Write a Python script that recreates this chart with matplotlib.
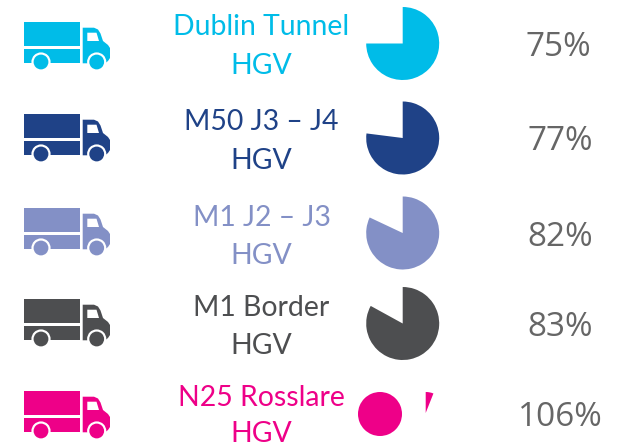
import matplotlib
matplotlib.use("Agg")
import matplotlib.pyplot as plt
from matplotlib.patches import Circle, Polygon, Rectangle

W, H = 623, 446

routes = ["Dublin Tunnel", "M50 J3 – J4", "M1 J2 – J3", "M1 Border", "N25 Rosslare"]
percents = [75, 77, 82, 83, 106]
colors = ["#00BCE8", "#1F4287", "#8390C6", "#4D4E50", "#EE0088"]

truck_dy = [0, 92, 186, 277, 369]
name_y = [27, 122, 218, 308, 398]
hgv_y = [66, 161, 256, 346, 434]
pie_y = [43.5, 138, 233, 323.5]
pct_x = [558, 560, 560, 560, 560]
pct_y = [47, 141, 237, 327, 418]


def draw_truck(ax, dy, color):
    ax.add_patch(Rectangle((24.3, 21.7 + dy), 55.7, 24.3, fc=color, ec="none"))
    ax.add_patch(Rectangle((24.3, 48.7 + dy), 55.7, 14.6, fc=color, ec="none"))
    cab = [(82.7, 27.7), (94, 27.7), (98, 29.5), (100.5, 33.5), (103, 41), (108, 45),
           (110, 48), (110, 58), (108, 61), (105, 63.3), (82.7, 63.3)]
    ax.add_patch(Polygon([(x, y + dy) for x, y in cab], fc=color, ec="none"))
    win = [(87.3, 32.7), (96.5, 32.7), (99, 41), (87.3, 41)]
    ax.add_patch(Polygon([(x, y + dy) for x, y in win], fc="white", ec="none", zorder=3))
    for wx in (41, 96.7):
        ax.add_patch(Circle((wx, 62 + dy), 9.6, fc="white", ec="none", zorder=3))
        ax.add_patch(Circle((wx, 62 + dy), 7.4, fc=color, ec="none", zorder=4))


def pie_axes(fig, cx, cy, r):
    a = fig.add_axes([(cx - r) / W, 1 - (cy + r) / H, 2 * r / W, 2 * r / H])
    a.axis("off")
    return a


def draw_pie(a, vals, cols):
    a.pie(vals, colors=cols, startangle=90, counterclock=False, radius=1)
    a.set_xlim(-1, 1)
    a.set_ylim(-1, 1)


fig = plt.figure(figsize=(W / 100, H / 100), dpi=100, facecolor="white")
ax = fig.add_axes([0, 0, 1, 1])
ax.set_xlim(0, W)
ax.set_ylim(H, 0)
ax.axis("off")

for i, route in enumerate(routes):
    c = colors[i]
    draw_truck(ax, truck_dy[i], c)
    ax.text(261.5, name_y[i], route, color=c, fontsize=20.4, family="Lato", ha="center", va="center")
    ax.text(261.5, hgv_y[i], "HGV", color=c, fontsize=20.4, family="Lato", ha="center", va="center")
    ax.text(pct_x[i], pct_y[i], f"{percents[i]}%", color="#666666", fontsize=24,
            family="Open Sans", ha="center", va="center")

    if percents[i] <= 100:
        draw_pie(pie_axes(fig, 402.7, pie_y[i], 36.5), [percents[i], 100 - percents[i]], [c, "none"])
    else:
        # over 100%: full circle plus the overflow wedge split off to the right
        draw_pie(pie_axes(fig, 380, 414, 22), [100], [c])
        draw_pie(pie_axes(fig, 425.7, 413, 21), [percents[i] - 100, 200 - percents[i]], [c, "none"])

fig.savefig("out.png", dpi=100)
